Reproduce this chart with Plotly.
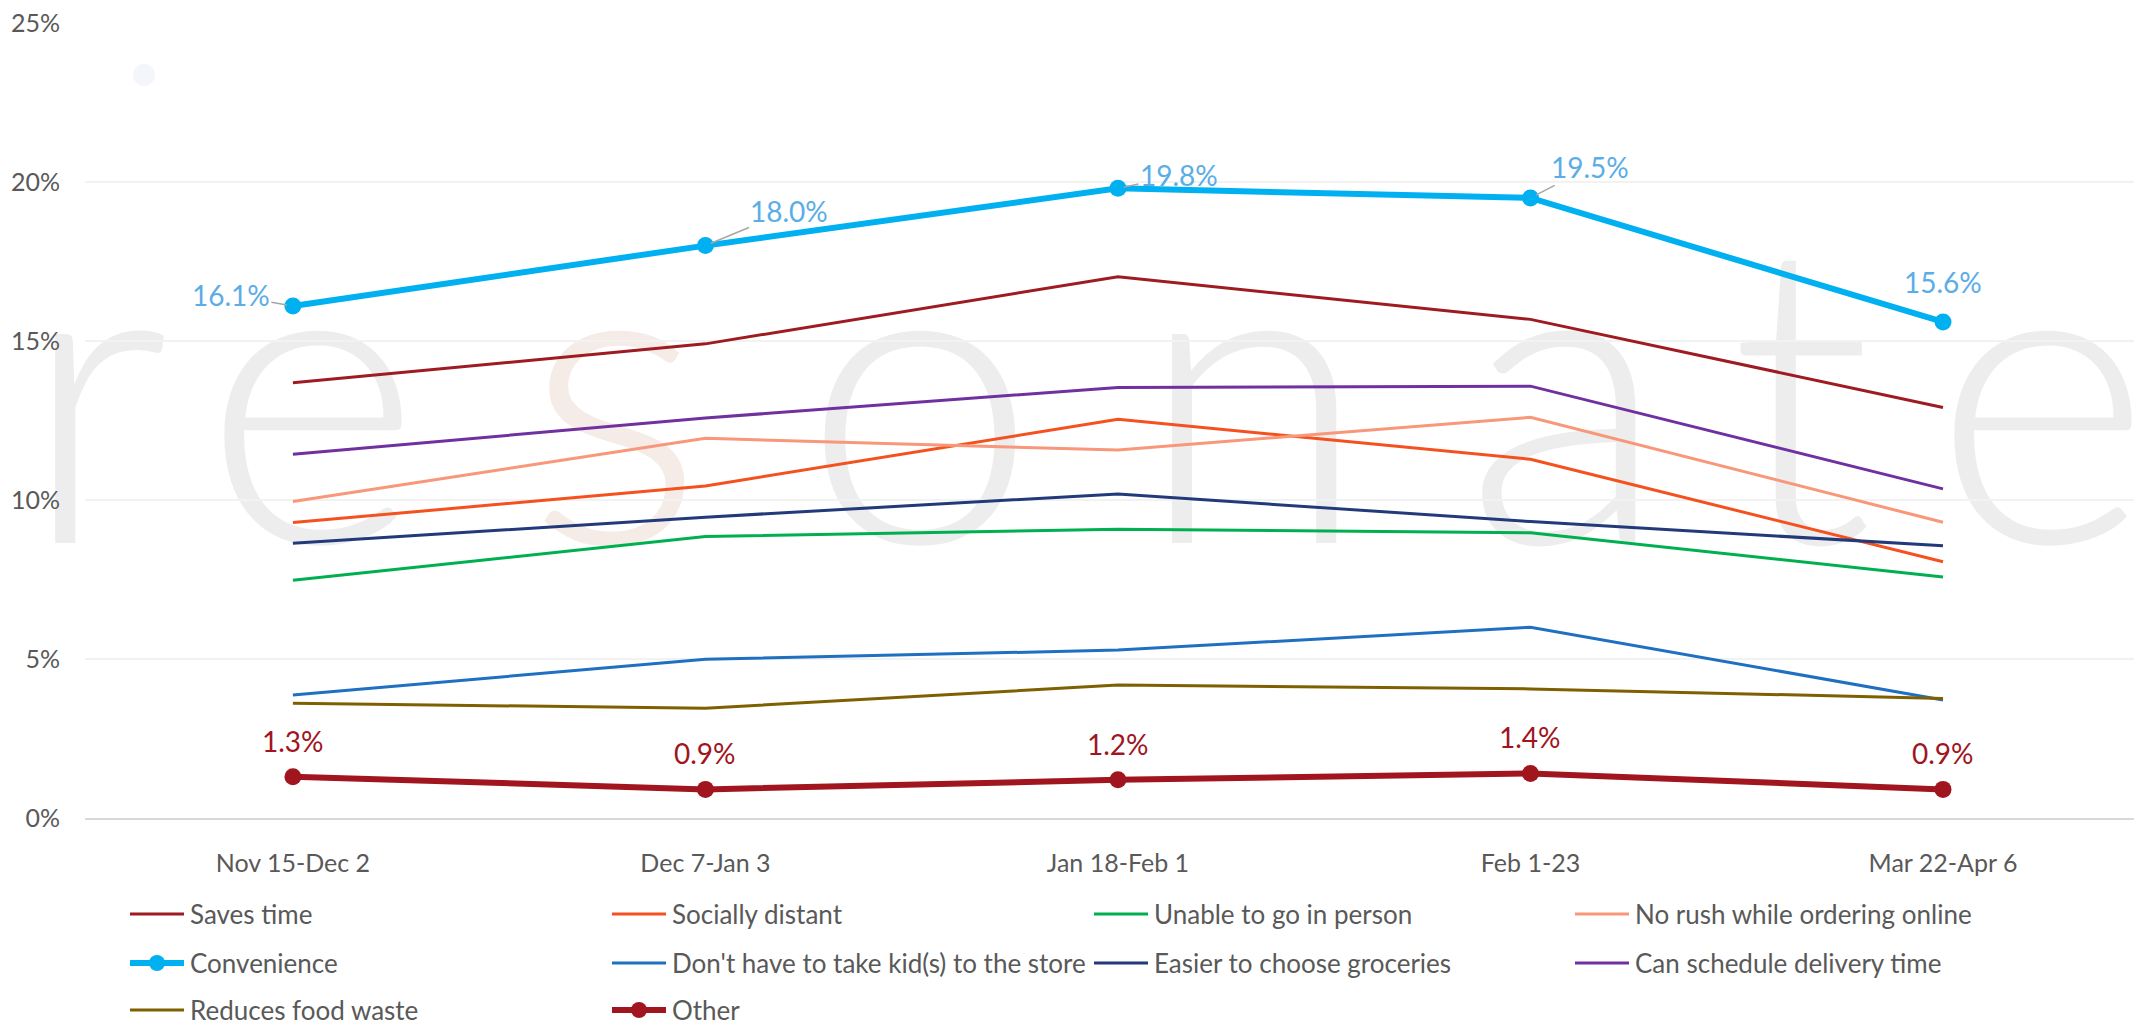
import plotly.graph_objects as go

# ---------------- data ----------------
categories = ["Nov 15-Dec 2", "Dec 7-Jan 3", "Jan 18-Feb 1", "Feb 1-23", "Mar 22-Apr 6"]

saves_time = [13.69, 14.91, 17.02, 15.68, 12.91]
socially_distant = [9.29, 10.44, 12.54, 11.28, 8.06]
unable_in_person = [7.48, 8.85, 9.08, 8.97, 7.58]
no_rush = [9.95, 11.94, 11.57, 12.60, 9.30]
convenience = [16.1, 18.0, 19.8, 19.5, 15.6]
kids_store = [3.87, 4.99, 5.28, 6.00, 3.71]
easier_choose = [8.64, 9.46, 10.19, 9.32, 8.56]
schedule_delivery = [11.44, 12.58, 13.54, 13.58, 10.35]
food_waste = [3.61, 3.45, 4.18, 4.06, 3.76]
other = [1.3, 0.9, 1.2, 1.4, 0.9]

y_ticks = [0, 5, 10, 15, 20, 25]
y_tick_labels = ["0%", "5%", "10%", "15%", "20%", "25%"]

# ---------------- styles ----------------
series = [
    ("Saves time", saves_time, "#9E1B22", False),
    ("Socially distant", socially_distant, "#F4511E", False),
    ("Unable to go in person", unable_in_person, "#00B050", False),
    ("No rush while ordering online", no_rush, "#F8977A", False),
    ("Convenience", convenience, "#00B0F0", True),
    ("Don't have to take kid(s) to the store", kids_store, "#1F70C1", False),
    ("Easier to choose groceries", easier_choose, "#22397A", False),
    ("Can schedule delivery time", schedule_delivery, "#7030A0", False),
    ("Reduces food waste", food_waste, "#7F6000", False),
    ("Other", other, "#A0151E", True),
]

W, H = 2134, 1026
L, R, T, B = 85, 0, 23, 208
PW, PH = W - L - R, H - T - B


def px_x(p):
    return (p - L) / PW


def px_y(p):
    return (H - B - p) / PH


FONT = "Lato, 'Open Sans', sans-serif"
GREY = "#595959"

fig = go.Figure()

for name, vals, color, thick in series:
    fig.add_trace(go.Scatter(
        x=categories, y=vals, name=name,
        mode="lines+markers" if thick else "lines",
        line=dict(color=color, width=6 if thick else 3),
        marker=dict(size=17, color=color),
        showlegend=False, hoverinfo="skip",
    ))

annotations = []
shapes = []

# Convenience data labels (offsets in px: text centre relative to point)
conv_offsets = [(-62, -11, True), (84, -35, True), (61, -13, True), (60, -31, True), (0, -40, False)]
for cat, v, (ax, ay, arrow) in zip(categories, convenience, conv_offsets):
    annotations.append(dict(
        x=cat, y=v, xref="x", yref="y", text=f"{v:.1f}%",
        showarrow=arrow, arrowhead=0, arrowwidth=1.5, arrowcolor="#A6A6A6",
        ax=ax, ay=ay, standoff=6,
        yshift=0 if arrow else -ay, xshift=0 if arrow else ax,
        font=dict(family=FONT, size=28, color="#5BADE6"),
    ))

# Other data labels
for cat, v in zip(categories, other):
    annotations.append(dict(
        x=cat, y=v, xref="x", yref="y", text=f"{v:.1f}%", showarrow=False,
        yshift=36, font=dict(family=FONT, size=28, color="#A0151E"),
    ))

# ---------------- manual legend ----------------
col_x = [130, 612, 1094, 1575]
row_y = [914, 963, 1010]
for i, (name, vals, color, thick) in enumerate(series):
    r, c = divmod(i, 4)
    x0, y0 = col_x[c], row_y[r]
    shapes.append(dict(type="line", xref="paper", yref="paper",
                       x0=px_x(x0), x1=px_x(x0 + 54), y0=px_y(y0), y1=px_y(y0),
                       line=dict(color=color, width=6 if thick else 3)))
    if thick:
        shapes.append(dict(type="circle", xref="paper", yref="paper",
                           xsizemode="pixel", ysizemode="pixel",
                           xanchor=px_x(x0 + 27), yanchor=px_y(y0),
                           x0=-8, x1=8, y0=-8, y1=8,
                           fillcolor=color, line=dict(width=0)))
    annotations.append(dict(x=px_x(x0 + 58), y=px_y(y0), xref="paper", yref="paper",
                            xanchor="left", yanchor="middle", showarrow=False,
                            text=name, font=dict(family=FONT, size=26, color=GREY)))

# ---------------- background watermark ----------------
letters = [("r", 95), ("e", 312), ("s", 615), ("o", 920), ("n", 1253),
           ("a", 1566), ("t", 1801), ("e", 2042)]
for ch, cx in letters:
    shapes.append(dict(type="rect", xref="paper", yref="paper", layer="below",
                       x0=px_x(cx - 5), x1=px_x(cx + 5), y0=px_y(380), y1=px_y(370),
                       line=dict(width=0), fillcolor="rgba(0,0,0,0)",
                       label=dict(text=ch, textposition="middle center",
                                  font=dict(family="Lato", size=420, weight=300,
                                            color="#F6ECE7" if ch == "s" else "#EDEDED"))))
shapes.append(dict(type="circle", xref="paper", yref="paper", layer="below",
                   xsizemode="pixel", ysizemode="pixel",
                   xanchor=px_x(144), yanchor=px_y(75), x0=-11, x1=11, y0=-11, y1=11,
                   fillcolor="#F3F7FB", line=dict(width=0)))

fig.update_layout(
    width=W, height=H,
    margin=dict(l=L, r=R, t=T, b=B),
    paper_bgcolor="white", plot_bgcolor="white",
    showlegend=False,
    annotations=annotations, shapes=shapes,
    xaxis=dict(
        type="category", range=[-0.504, 4.463],
        showgrid=False, zeroline=False,
        showline=True, linecolor="#D9D9D9", linewidth=2,
        ticks="", ticklabelstandoff=22,
        tickfont=dict(family=FONT, size=25, color=GREY),
    ),
    yaxis=dict(
        range=[0, 25], tickvals=y_ticks, ticktext=y_tick_labels,
        showgrid=True, gridcolor="#F2F2F2", gridwidth=2,
        zeroline=False, showline=False, ticks="", ticklabelstandoff=24,
        tickfont=dict(family=FONT, size=25, color=GREY),
    ),
)

fig.write_html(
    "out.html",
    config={"displayModeBar": False},
    post_script="document.body.style.margin='0';document.body.style.overflow='hidden';",
)
